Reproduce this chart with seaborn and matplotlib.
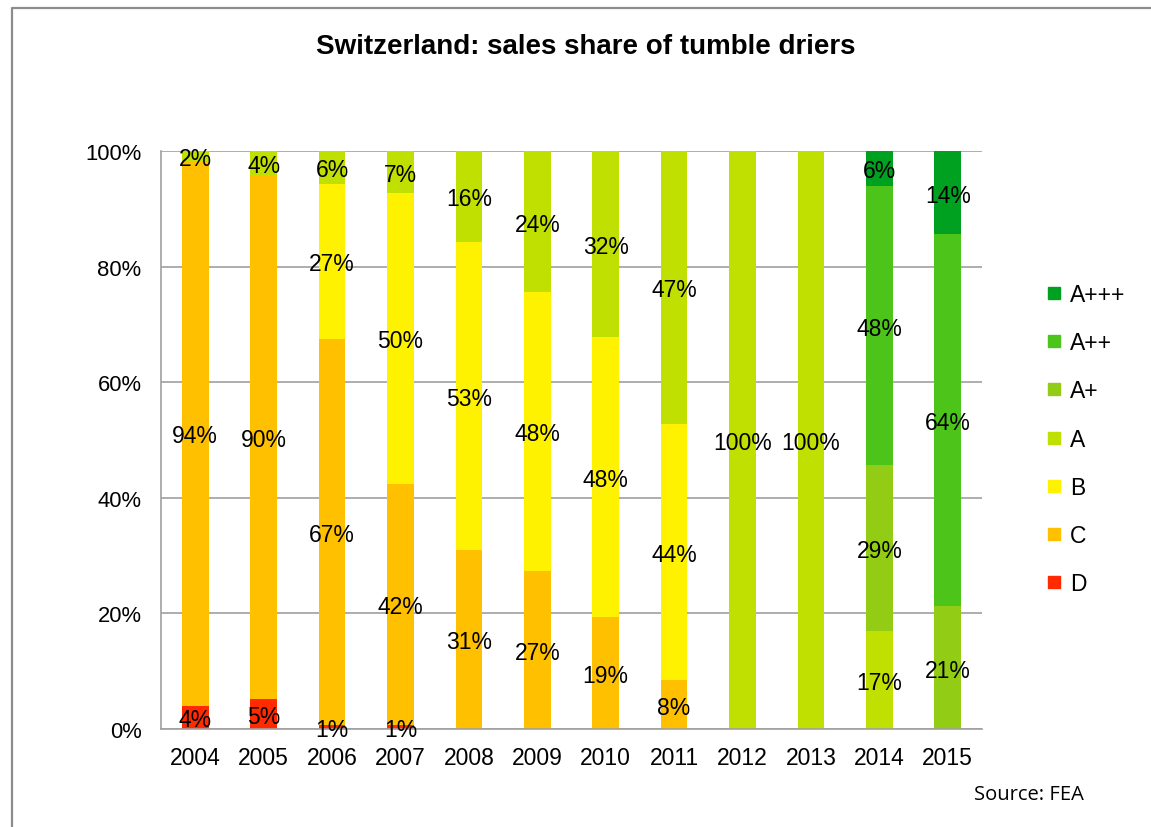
import numpy as np
import pandas as pd
import matplotlib
matplotlib.use("Agg")
import matplotlib.pyplot as plt
from matplotlib.lines import Line2D
from matplotlib import font_manager
import seaborn as sns

# ---------------- data ----------------
years = ["2004", "2005", "2006", "2007", "2008", "2009",
         "2010", "2011", "2012", "2013", "2014", "2015"]
share_D    = [4.0, 5.2, 0.7, 0.7, 0, 0, 0, 0, 0, 0, 0, 0]
share_C    = [94.3, 90.5, 66.8, 41.7, 31.0, 27.4, 19.4, 8.4, 0, 0, 0, 0]
share_B    = [0, 0, 26.8, 50.4, 53.3, 48.2, 48.4, 44.4, 0, 0, 0, 0]
share_A    = [1.7, 4.3, 5.7, 7.2, 15.7, 24.4, 32.2, 47.2, 100, 100, 17.0, 0]
share_Ap   = [0, 0, 0, 0, 0, 0, 0, 0, 0, 0, 28.6, 21.2]
share_App  = [0, 0, 0, 0, 0, 0, 0, 0, 0, 0, 48.4, 64.4]
share_Appp = [0, 0, 0, 0, 0, 0, 0, 0, 0, 0, 6.0, 14.4]

classes = ["D", "C", "B", "A", "A+", "A++", "A+++"]          # stacking order
values = [share_D, share_C, share_B, share_A, share_Ap, share_App, share_Appp]
colors = ["#ff2a00", "#ffc000", "#fff200", "#bfe000", "#92cc14", "#4cc41a", "#00a020"]

title = "Switzerland: sales share of tumble driers"
source = "Source: FEA"
y_ticks = [0, 20, 40, 60, 80, 100]

# ---------------- style ----------------
sns.set_style("white")
avail = {f.name for f in font_manager.fontManager.ttflist}
main_font = "Liberation Sans Narrow" if "Liberation Sans Narrow" in avail else "Liberation Sans"
narrow = main_font == "Liberation Sans Narrow"
plt.rcParams["font.family"] = [main_font, "DejaVu Sans"]
plt.rcParams["text.color"] = "black"
plt.rcParams["xtick.labelcolor"] = "black"
plt.rcParams["ytick.labelcolor"] = "black"
fs = 20 if narrow else 16.5
fs_y = 19 if narrow else 15.8

fig = plt.figure(figsize=(11.51, 8.28), dpi=100)
ax = fig.add_axes([161 / 1151, 1 - 730 / 828, (982 - 161) / 1151, (730 - 152) / 828])

gray = "#a0a0a0"
bottom = np.zeros(len(years))
for cls, vals, col in zip(classes, values, colors):
    vals = np.asarray(vals, dtype=float)
    df = pd.DataFrame({"year": years, "share": vals})
    sns.barplot(data=df, x="year", y="share", order=years, color=col,
                saturation=1, width=0.39, bottom=bottom, linewidth=0,
                errorbar=None, ax=ax, zorder=2)
    for i, v in enumerate(vals):
        if v > 0:
            ax.text(i, bottom[i] + v / 2, f"{round(v):.0f}%", ha="center",
                    va="center_baseline", fontsize=fs, color="black", zorder=5)
    bottom = bottom + vals

ax.set_xlim(-0.5, len(years) - 0.5)
ax.set_ylim(0, 100)
ax.set_xlabel("")
ax.set_ylabel("")

ax.set_yticks(y_ticks)
ax.set_yticklabels([f"{t}%" for t in y_ticks], fontsize=fs_y)
ax.set_xticks(range(len(years)))
ax.set_xticklabels(years, fontsize=fs)
ax.set_xticks(np.arange(-0.5, len(years), 1), minor=True)
ax.tick_params(axis="x", which="major", length=0, pad=12, labelcolor="black")
ax.tick_params(axis="x", which="minor", length=6, width=1.2, color=gray, direction="out")
ax.tick_params(axis="y", which="major", length=5, width=1.2, color=gray, direction="out",
               pad=9, labelcolor="black")

ax.yaxis.grid(True, color=gray, linewidth=1.2, zorder=0)
ax.xaxis.grid(False)
ax.set_axisbelow(True)
for s in ["top", "right"]:
    ax.spines[s].set_visible(False)
for s in ["left", "bottom"]:
    ax.spines[s].set_color(gray)
    ax.spines[s].set_linewidth(1.2)

# title
fig.text(586 / 1151, 1 - 47 / 828, title, ha="center", va="center", color="black",
         fontsize=20, fontweight="bold", family=["Liberation Sans", "DejaVu Sans"])

# legend (top class first)
handles = [Line2D([], [], marker="s", linestyle="", markersize=9, color=c)
           for c in colors[::-1]]
fig.legend(handles, classes[::-1], loc="upper left",
           bbox_to_anchor=(1047 / 1151, 1 - 284 / 828), frameon=False,
           fontsize=fs, handlelength=0.6, handletextpad=0.4,
           labelspacing=1.1, borderaxespad=0, borderpad=0)

# source
fig.text(1029 / 1151, 1 - 795 / 828, source, ha="center", va="center", color="black",
         fontsize=14.5, family=["Open Sans", "DejaVu Sans"])

# outer chart border (left and top edges visible)
fig.add_artist(Line2D([12 / 1151, 12 / 1151, 1.01], [-0.01, 1 - 9 / 828, 1 - 9 / 828],
                      transform=fig.transFigure, color="#8c8c8c", linewidth=1.6))

fig.savefig("out.png", dpi=100)
